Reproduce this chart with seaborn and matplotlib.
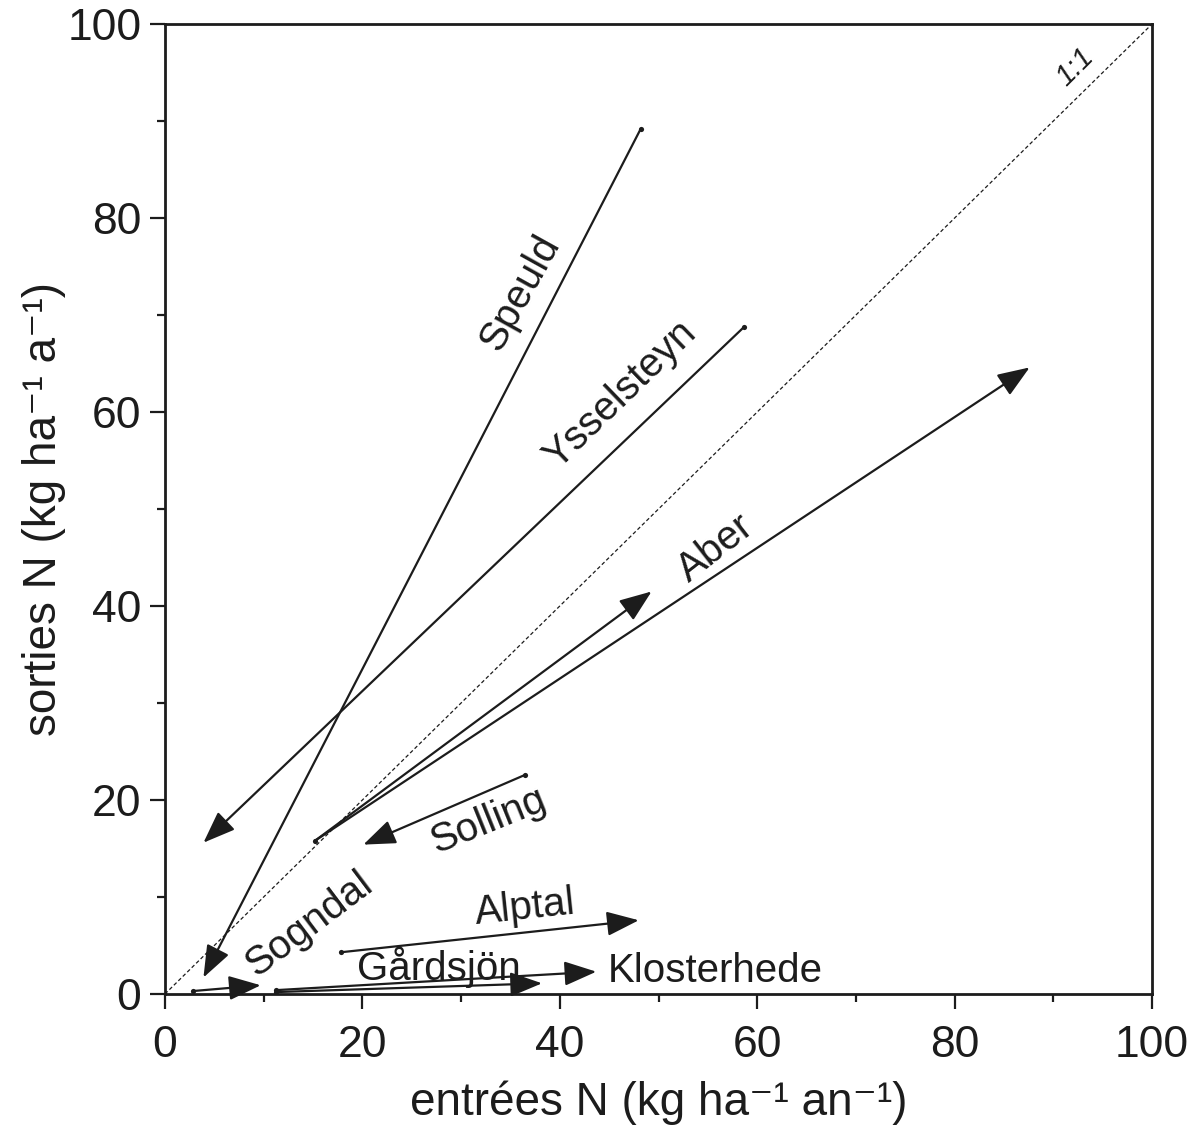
import numpy as np
import pandas as pd
import matplotlib
matplotlib.use("Agg")
import matplotlib.pyplot as plt
import seaborn as sns

# one arrow per site: from the "before" point to the "after" point
sites = ['Speuld', 'Ysselsteyn', 'Aber', 'Aber', 'Solling',
         'Sogndal', 'Alptal', 'Gårdsjön', 'Klosterhede']
x_start = [48.2, 58.7, 15.2, 15.2, 36.5, 2.8, 17.8, 11.3, 11.3]
y_start = [89.2, 68.8, 15.8, 15.8, 22.6, 0.3, 4.3, 0.2, 0.4]
x_end = [3.9, 3.9, 49.3, 87.6, 20.1, 9.7, 48.0, 38.2, 43.7]
y_end = [1.7, 15.6, 41.5, 64.6, 15.4, 0.9, 7.6, 1.1, 2.3]

ticks_major = [0, 20, 40, 60, 80, 100]
ticks_minor = [10, 30, 50, 70, 90]

arrows = pd.DataFrame({'site': sites, 'x0': x_start, 'y0': y_start,
                       'x1': x_end, 'y1': y_end})

sns.set_theme(style='ticks')
plt.rcParams['font.family'] = ['Liberation Sans', 'DejaVu Sans']

ink = '#1c1c1c'

fig = plt.figure(figsize=(11.91, 11.28), dpi=100)
ax = fig.add_axes([0.1385, 0.1188, 0.8288, 0.8599])

# 1:1 line
diag = pd.DataFrame({'x': [0, 100], 'y': [0, 100]})
sns.lineplot(data=diag, x='x', y='y', ax=ax, color=ink, lw=0.9,
             linestyle=(0, (3, 2)))

for _, r in arrows.iterrows():
    ax.annotate('', xy=(r.x1, r.y1), xytext=(r.x0, r.y0),
                arrowprops=dict(arrowstyle='-|>,head_length=1.1,head_width=0.42',
                                mutation_scale=18, lw=1.6, color=ink,
                                shrinkA=0, shrinkB=0))

# small dots at the starting points
sns.scatterplot(data=arrows.drop_duplicates(['x0', 'y0']), x='x0', y='y0',
                ax=ax, color=ink, s=14, edgecolor=ink, linewidth=0, zorder=5)

# site names, rotated along their arrows
labels = {
    'Speuld': (36.0, 72.3, 61),
    'Ysselsteyn': (46.1, 61.8, 44),
    'Aber': (55.8, 46.0, 38),
    'Solling': (32.8, 17.9, 22),
    'Sogndal': (14.6, 7.2, 37),
    'Alptal': (36.5, 8.9, 6),
    'Gårdsjön': (27.7, 2.8, 0),
    'Klosterhede': (55.7, 2.4, 0),
}
for name, (tx, ty, rot) in labels.items():
    ax.text(tx, ty, name, fontsize=29, color=ink, rotation=rot,
            rotation_mode='anchor', ha='center', va='center')
ax.text(92.2, 95.6, '1:1', fontsize=21, color=ink, rotation=45,
        style='italic', rotation_mode='anchor', ha='center', va='center')

ax.set_xlim(0, 100)
ax.set_ylim(0, 100)
ax.set_xticks(ticks_major)
ax.set_yticks(ticks_major)
ax.set_xticks(ticks_minor, minor=True)
ax.set_yticks(ticks_minor, minor=True)
ax.tick_params(which='major', length=11, width=1.6, color=ink,
               labelsize=32, labelcolor=ink)
ax.tick_params(axis='x', which='major', pad=11)
ax.tick_params(axis='y', which='major', pad=6)
ax.tick_params(which='minor', length=6, width=1.6, color=ink)
for sp in ax.spines.values():
    sp.set_linewidth(2.0)
    sp.set_color(ink)
    sp.set_visible(True)

ax.set_xlabel('entrées N (kg ha⁻¹ an⁻¹)', fontsize=33, color=ink, labelpad=11)
ax.set_ylabel('sorties N (kg ha⁻¹ a⁻¹)', fontsize=33, color=ink, labelpad=1)

fig.savefig('out.png', dpi=100, facecolor='white')
